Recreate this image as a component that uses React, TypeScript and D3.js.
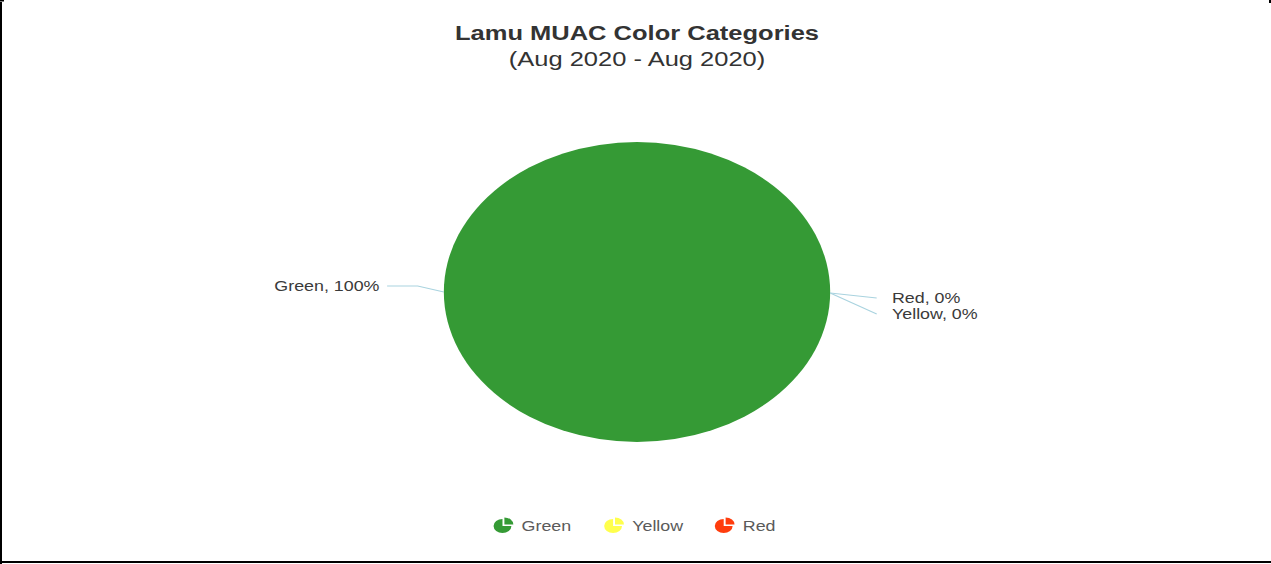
import React from "react";
import * as d3 from "d3";

const categories = ["Green", "Yellow", "Red"];
const values = [100, 0, 0];
const colors = ["#359a35", "#ffff4d", "#ff3d0d"];
const titleText = "Lamu MUAC Color Categories";
const subtitleText = "(Aug 2020 - Aug 2020)";

const W = 1271;
const H = 564;
const CX = 637;
const CY = 292;
const SX = 1.275;
const PIE_SX = 1.01;
const R = 150;

export default function App() {
  const total = d3.sum(values);
  const pie = d3
    .pie<number>()
    .sort(null)
    .startAngle(Math.PI / 2)
    .endAngle(Math.PI / 2 + 2 * Math.PI)
    .value((d) => d);
  const arcs = pie(values);
  const arc = d3.arc<d3.PieArcDatum<number>>().innerRadius(0).outerRadius(R);

  // label layout
  const labels = arcs.map((a, i) => {
    const mid = (a.startAngle + a.endAngle) / 2;
    const px = Math.sin(mid) * R * PIE_SX;
    const py = -Math.cos(mid) * R;
    const right = px > 0;
    return { i, mid, px, py, right };
  });
  const rightOnes = labels.filter((l) => l.right).reverse();
  const leftOnes = labels.filter((l) => !l.right);
  const placed: { i: number; px: number; py: number; right: boolean; ly: number }[] = [];
  rightOnes.forEach((l, k) => placed.push({ ...l, ly: l.py + 6 + k * 16 }));
  leftOnes.forEach((l) => placed.push({ ...l, ly: l.py - 6 }));

  const legendX = d3.scalePoint<string>().domain(categories).range([-105.5, 68]);
  const iconMain = d3.arc()({ innerRadius: 0, outerRadius: 7, startAngle: Math.PI / 2, endAngle: 2 * Math.PI }) as string;
  const iconWedge = d3.arc()({ innerRadius: 0, outerRadius: 7, startAngle: 0, endAngle: Math.PI / 2 }) as string;

  return (
    <div style={{ position: "absolute", left: 0, top: 0 }}>
      <svg width={W} height={H} style={{ display: "block", background: "#fff" }}>
        <g transform={`translate(${CX},0) scale(${SX},1)`} fontFamily="'Liberation Sans', Arial, sans-serif">
          <text x={0} y={40} textAnchor="middle" fontSize={20} fontWeight="bold" fill="#333">
            {titleText}
          </text>
          <text x={0} y={66} textAnchor="middle" fontSize={20} fill="#333">
            {subtitleText}
          </text>
          <g transform={`translate(0,${CY})`}>
            <g transform={`scale(${PIE_SX},1)`}>
              {arcs.map((a, i) =>
                a.value > 0 ? <path key={i} d={arc(a) || ""} fill={colors[i]} /> : null
              )}
            </g>
            {placed.map((l) => {
              const sgn = l.right ? 1 : -1;
              const pct = Math.round((values[l.i] / total) * 100);
              const pts = l.right
                ? `${l.px},${l.py + 1} ${sgn * (R + 38)},${l.ly}`
                : `${l.px},${l.py} ${sgn * (R + 22)},${l.ly} ${sgn * (R + 46)},${l.ly}`;
              const tx = sgn * (R + (l.right ? 50 : 52));
              return (
                <g key={l.i}>
                  <polyline
                    points={pts}
                    fill="none"
                    stroke="#a9d3df"
                    strokeWidth={1.2}
                    vectorEffect="non-scaling-stroke"
                  />
                  <text
                    x={tx}
                    y={l.ly + 5}
                    textAnchor={l.right ? "start" : "end"}
                    fontSize={14}
                    fill="#3a3a3a"
                  >
                    {`${categories[l.i]}, ${pct}%`}
                  </text>
                </g>
              );
            })}
          </g>
          <g transform="translate(0,526)">
            {categories.map((c, i) => {
              const x = legendX(c) as number;
              return (
                <g key={c} transform={`translate(${x},0)`}>
                  <path d={iconMain} fill={colors[i]} />
                  <path d={iconWedge} fill={colors[i]} transform="translate(1.5,-1.5)" />
                  <text x={15} y={5} fontSize={14} fill="#5a5a5a">
                    {c}
                  </text>
                </g>
              );
            })}
          </g>
        </g>
        <rect x={0} y={2} width={2} height={H - 2} fill="#000" />
        <rect x={0} y={561} width={W} height={2} fill="#000" />
        <rect x={0} y={0} width={4} height={1.5} fill="#000" />
        <rect x={1269} y={0} width={2} height={3} fill="#000" />
      </svg>
    </div>
  );
}
